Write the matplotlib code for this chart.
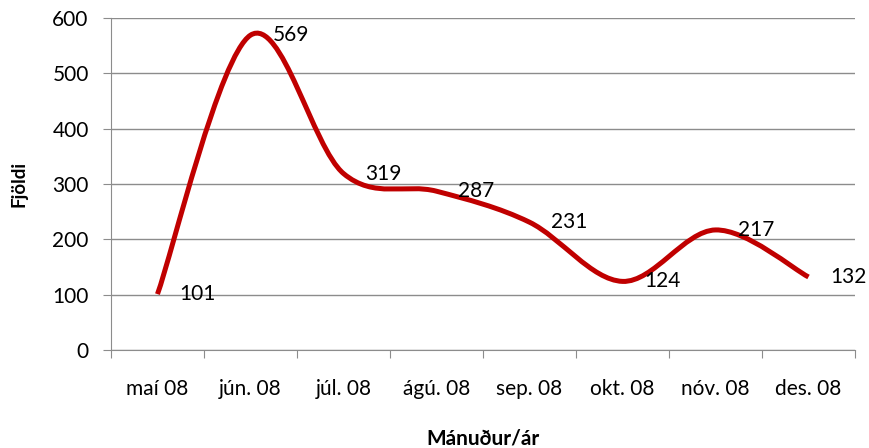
import numpy as np
import matplotlib.pyplot as plt
from matplotlib.path import Path
from matplotlib.patches import PathPatch

months = ['maí 08', 'jún. 08', 'júl. 08', 'ágú. 08', 'sep. 08', 'okt. 08', 'nóv. 08', 'des. 08']
values = [101, 569, 319, 287, 231, 124, 217, 132]

plt.rcParams['font.family'] = ['Lato', 'DejaVu Sans']

fig = plt.figure(figsize=(8.69, 4.48), dpi=100)
ax = fig.add_axes([0.1277, 0.21875, 0.8562, 0.741])

x = np.arange(len(values), dtype=float)
y = np.array(values, dtype=float)

# Excel-style smoothed line (Catmull-Rom as cubic Bezier)
verts = [(x[0], y[0])]
codes = [Path.MOVETO]
n = len(x)
for i in range(n - 1):
    p0 = (x[max(i - 1, 0)], y[max(i - 1, 0)])
    p1 = (x[i], y[i])
    p2 = (x[i + 1], y[i + 1])
    p3 = (x[min(i + 2, n - 1)], y[min(i + 2, n - 1)])
    c1 = (p1[0] + (p2[0] - p0[0]) / 6, p1[1] + (p2[1] - p0[1]) / 6)
    c2 = (p2[0] - (p3[0] - p1[0]) / 6, p2[1] - (p3[1] - p1[1]) / 6)
    verts += [c1, c2, p2]
    codes += [Path.CURVE4] * 3
ax.add_patch(PathPatch(Path(verts, codes), fill=False, edgecolor='#C00000',
                       lw=3.6, capstyle='butt', joinstyle='round', zorder=3))

for xi, yi in zip(x, y):
    ax.annotate(str(int(yi)), (xi, yi), xytext=(22, 0), textcoords='offset pixels',
                ha='left', va='center', fontsize=15, color='black', zorder=4)

ax.set_xlim(-0.5, n - 0.5)
ax.set_ylim(0, 600)
ax.set_yticks(range(0, 601, 100))
ax.yaxis.grid(True, color='#8C8C8C', lw=1)
ax.set_axisbelow(True)

ax.set_xticks(np.arange(-0.5, n, 1.0))
ax.set_xticklabels([])
ax.set_xticks(x, minor=True)
ax.set_xticklabels(months, minor=True, fontsize=15)
ax.tick_params(axis='x', which='minor', length=0, pad=21)
ax.tick_params(axis='x', which='major', length=6, color='#8C8C8C')
ax.tick_params(axis='y', length=6, color='#8C8C8C', labelsize=15, pad=10)

for s in ['top', 'right']:
    ax.spines[s].set_visible(False)
for s in ['left', 'bottom']:
    ax.spines[s].set_color('#8C8C8C')

ax.set_ylabel('Fjöldi', fontsize=13.5, fontweight='bold', labelpad=18)
ax.set_xlabel('Mánuður/ár', fontsize=15, fontweight='bold', labelpad=21)

fig.savefig('out.png', dpi=100)
